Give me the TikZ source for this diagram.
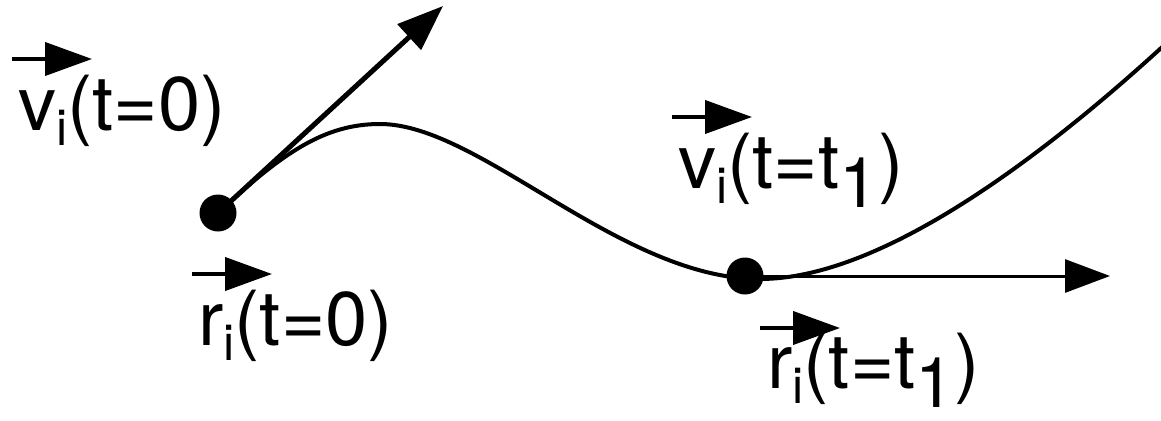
\documentclass[tikz,border=0pt]{standalone}
\usepackage{fontspec}
\setmainfont{TeX Gyre Heros}
\usetikzlibrary{arrows.meta}
\newcommand{\subi}{\raisebox{-15pt}{\fontsize{50}{50}\selectfont i}}
\newcommand{\subone}{\raisebox{-19pt}{\fontsize{70}{70}\selectfont 1}}
\begin{document}
\begin{tikzpicture}[x=1pt,y=-1pt,
  lbl/.style={anchor=base west,inner sep=0pt,font=\fontsize{76}{80}\selectfont},
  dotnode/.style={circle,fill=black,inner sep=0pt,minimum size=37pt},
  traj/.style={line width=4pt,line join=round},
  velarrow/.style={line width=5pt,-{Triangle[length=46pt,width=34pt]}},
  hzarrow/.style={line width=3pt,-{Triangle[length=45pt,width=33pt]}},
  ovarrow/.style={line width=4pt,-{Triangle[length=47pt,width=33pt]}}]
\useasboundingbox (0,0) rectangle (1161,420);
% particle positions
\node[dotnode] (p0) at (218,213) {};
\node[dotnode] (p1) at (745,276) {};
\coordinate (v0tip) at (443,6);
\coordinate (v1tip) at (1110,276);
\coordinate (trajend) at (1172,38);
% trajectory
\draw[traj] (p0.center) .. controls (283,152) and (325,124) .. (380,124)
  .. controls (480,124) and (620,279) .. (760,279)
  .. controls (880,279) and (1040,160) .. (trajend);
% velocity vectors
\draw[velarrow] (p0.center) -- (v0tip);
\draw[hzarrow] (p1.center) -- (v1tip);
% labels
\node[lbl] (lv0) at (18,130) {v\subi(t=0)};
\node[lbl] (lr0) at (198,345) {r\subi(t=0)};
\node[lbl] (lv1) at (678,188) {v\subi(t=t\subone)};
\node[lbl] (lr1) at (767,388) {r\subi(t=t\subone)};
% vector arrows over the labels
\coordinate (a0s) at (12,59);   \coordinate (a0e) at (92,59);
\coordinate (b0s) at (192,274); \coordinate (b0e) at (272,274);
\coordinate (a1s) at (672,117); \coordinate (a1e) at (752,117);
\coordinate (b1s) at (760,328); \coordinate (b1e) at (840,328);
\draw[ovarrow] (a0s) -- (a0e);
\draw[ovarrow] (b0s) -- (b0e);
\draw[ovarrow] (a1s) -- (a1e);
\draw[ovarrow] (b1s) -- (b1e);
\end{tikzpicture}
\end{document}
